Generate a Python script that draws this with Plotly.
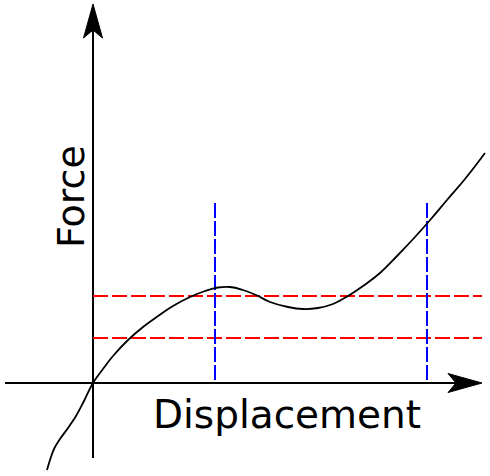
import plotly.graph_objects as go

# Data in chart units (origin at the axes crossing)
curve_x = [-46, -43, -39, -33, -25, -17, -9, 0, 10, 20, 35, 50, 65, 80, 97, 112, 125,
           137, 150, 163, 177, 195, 210, 225, 240, 255, 270, 287, 305, 322, 338, 354,
           372, 392]
curve_y = [-87, -77, -66, -56, -45, -33, -18, 0, 14, 27, 43, 56, 67, 77, 86, 92, 95.5,
           96, 93, 88, 81, 76, 74, 75, 79, 87, 97, 110, 128, 146, 164, 183,
           204, 230]

force_levels = [87, 45]          # red dashed horizontal levels
level_x_range = [0, 389]
disp_marks = [122, 334]          # blue dashed vertical marks
mark_y_range = [3, 180]

x_axis_extent = [-88, 389]
y_axis_extent = [-75, 379]

x_label = "Displacement"
y_label = "Force"

XR = [-93, 397]
YR = [-93, 383]

fig = go.Figure()

# arrowhead geometry (length, notch depth, half-width)
AL, AN, AW = 34, 26, 9.5

# axes
fig.add_trace(go.Scatter(x=[x_axis_extent[0], x_axis_extent[1] - AN], y=[0, 0], mode="lines",
                         line=dict(color="black", width=2), hoverinfo="skip"))
fig.add_trace(go.Scatter(x=[0, 0], y=[y_axis_extent[0], y_axis_extent[1] - AN], mode="lines",
                         line=dict(color="black", width=2), hoverinfo="skip"))

# arrowheads
tx = x_axis_extent[1]
fig.add_trace(go.Scatter(x=[tx, tx - AL, tx - AN, tx - AL, tx], y=[0, AW, 0, -AW, 0],
                         mode="lines", fill="toself", fillcolor="black",
                         line=dict(color="black", width=1), hoverinfo="skip"))
ty = y_axis_extent[1]
fig.add_trace(go.Scatter(x=[0, -AW, 0, AW, 0], y=[ty, ty - AL, ty - AN, ty - AL, ty],
                         mode="lines", fill="toself", fillcolor="black",
                         line=dict(color="black", width=1), hoverinfo="skip"))

# red dashed levels
for lv in force_levels:
    fig.add_trace(go.Scatter(x=level_x_range, y=[lv, lv], mode="lines",
                             line=dict(color="#ff0000", width=2, dash="15px,4px"), hoverinfo="skip"))

# blue dashed marks
for mx in disp_marks:
    fig.add_trace(go.Scatter(x=[mx, mx], y=mark_y_range, mode="lines",
                             line=dict(color="#0000ff", width=2, dash="15px,3px"), hoverinfo="skip"))

# curve
fig.add_trace(go.Scatter(x=curve_x, y=curve_y, mode="lines",
                         line=dict(color="black", width=1.8, shape="spline", smoothing=1.2),
                         hoverinfo="skip"))

fig.add_annotation(x=194, y=-31, text=x_label, showarrow=False,
                   font=dict(family="DejaVu Sans", size=39, color="black"),
                   xanchor="center", yanchor="middle")
fig.add_annotation(x=-22, y=186, text=y_label, showarrow=False, textangle=-90,
                   font=dict(family="DejaVu Sans", size=38, color="black"),
                   xanchor="center", yanchor="middle")

fig.update_layout(
    width=490, height=476,
    margin=dict(l=0, r=0, t=0, b=0),
    paper_bgcolor="white", plot_bgcolor="white",
    showlegend=False,
    xaxis=dict(range=XR, visible=False, fixedrange=True),
    yaxis=dict(range=YR, visible=False, fixedrange=True),
)

fig.write_html("out.html", config={"displayModeBar": False},
               post_script="document.body.style.margin='0';")
